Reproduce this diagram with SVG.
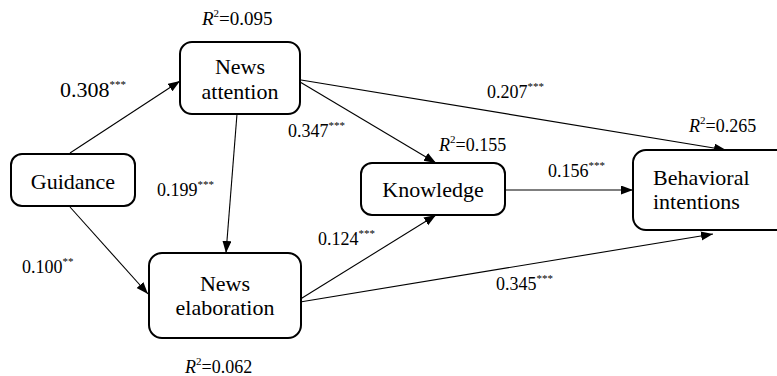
<svg xmlns="http://www.w3.org/2000/svg" width="777" height="376" viewBox="0 0 777 376">
<defs>
<style>
.bx{fill:#fff;stroke:#000;stroke-width:2}
.ed{stroke:#000;stroke-width:1.1;fill:none}
</style>
<marker id="ah" markerUnits="userSpaceOnUse" markerWidth="13" markerHeight="10" refX="12" refY="4.5" orient="auto">
<path d="M0,0 L12,4.5 L0,9 z" fill="#000"/>
</marker>
</defs>
<rect width="777" height="376" fill="#fff"/>
<g id="connectors" marker-end="url(#ah)">
<line class="ed" x1="70" y1="153" x2="180" y2="81" marker-end="url(#ah)"/>
<line class="ed" x1="237" y1="114" x2="226" y2="253" marker-end="url(#ah)"/>
<line class="ed" x1="70" y1="207" x2="148" y2="294" marker-end="url(#ah)"/>
<line class="ed" x1="295" y1="79" x2="436" y2="163" marker-end="url(#ah)"/>
<line class="ed" x1="295" y1="79" x2="726" y2="150" marker-end="url(#ah)"/>
<line class="ed" x1="505" y1="190" x2="633" y2="190" marker-end="url(#ah)"/>
<line class="ed" x1="294" y1="303" x2="436" y2="215" marker-end="url(#ah)"/>
<line class="ed" x1="294" y1="303" x2="713" y2="234" marker-end="url(#ah)"/>
</g>
<g id="guidance">
<rect class="bx" x="11" y="154" width="124" height="52" rx="11"/>
<text font-family="Times New Roman" font-size="22" x="73" y="189" text-anchor="middle">Guidance</text>
</g>
<g id="news-attention">
<rect class="bx" x="180" y="42" width="120" height="72" rx="12"/>
<text font-family="Times New Roman" font-size="22" x="240" y="74" text-anchor="middle">News</text>
<text font-family="Times New Roman" font-size="22" x="240" y="99" text-anchor="middle">attention</text>
</g>
<g id="news-elaboration">
<rect class="bx" x="149" y="253" width="152" height="85" rx="13"/>
<text font-family="Times New Roman" font-size="22" x="225" y="291" text-anchor="middle">News</text>
<text font-family="Times New Roman" font-size="22" x="225" y="315" text-anchor="middle">elaboration</text>
</g>
<g id="knowledge">
<rect class="bx" x="361" y="163" width="144" height="52" rx="11"/>
<text font-family="Times New Roman" font-size="22" x="433" y="197" text-anchor="middle">Knowledge</text>
</g>
<g id="behavioral-intentions">
<rect class="bx" x="633" y="150" width="160" height="80" rx="13"/>
<text font-family="Times New Roman" font-size="22" x="653" y="185">Behavioral</text>
<text font-family="Times New Roman" font-size="22" x="653" y="209">intentions</text>
</g>
<g id="coefficients" font-family="Times New Roman" font-size="18">
<text x="202" y="25" font-size="19"><tspan font-style="italic">R</tspan><tspan font-size="11" dy="-8">2</tspan><tspan dy="8">=0.095</tspan></text>
<text x="60" y="97" font-size="22">0.308<tspan font-size="11" dy="-9">***</tspan></text>
<text x="157" y="196">0.199<tspan font-size="11" dy="-8">***</tspan></text>
<text x="22" y="273">0.100<tspan font-size="11" dy="-8">**</tspan></text>
<text x="288" y="137">0.347<tspan font-size="11" dy="-8">***</tspan></text>
<text x="487" y="98">0.207<tspan font-size="11" dy="-8">***</tspan></text>
<text x="689" y="132"><tspan font-style="italic">R</tspan><tspan font-size="11" dy="-8">2</tspan><tspan dy="8">=0.265</tspan></text>
<text x="439" y="151"><tspan font-style="italic">R</tspan><tspan font-size="11" dy="-8">2</tspan><tspan dy="8">=0.155</tspan></text>
<text x="548" y="177">0.156<tspan font-size="11" dy="-8">***</tspan></text>
<text x="318" y="245">0.124<tspan font-size="11" dy="-8">***</tspan></text>
<text x="496" y="290">0.345<tspan font-size="11" dy="-8">***</tspan></text>
<text x="185" y="373"><tspan font-style="italic">R</tspan><tspan font-size="11" dy="-8">2</tspan><tspan dy="8">=0.062</tspan></text>
</g>
</svg>
